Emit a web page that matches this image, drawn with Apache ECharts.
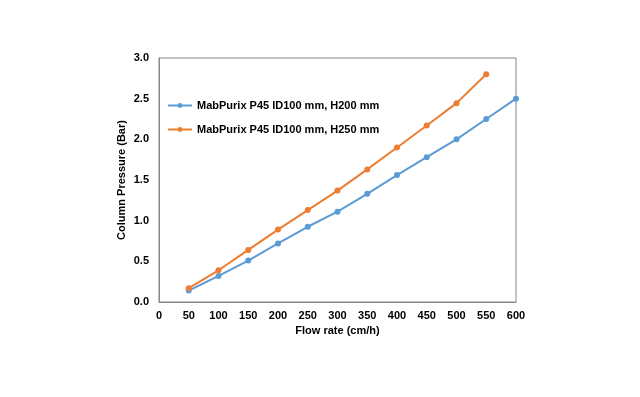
<!DOCTYPE html>
<html>
<head>
<meta charset="utf-8">
<script src="https://cdn.jsdelivr.net/npm/echarts@6/dist/echarts.min.js"></script>
<style>html,body{margin:0;padding:0;background:#fff;}#c{width:640px;height:397px;}</style>
</head>
<body>
<div id="c"></div>
<script>
const flowRates = [50, 100, 150, 200, 250, 300, 350, 400, 450, 500, 550, 600];
const seriesNames = ['MabPurix P45 ID100 mm, H200 mm', 'MabPurix P45 ID100 mm, H250 mm'];
const h200 = [0.14, 0.32, 0.51, 0.72, 0.925, 1.11, 1.33, 1.56, 1.78, 2.00, 2.25, 2.50];
const h250 = [0.17, 0.39, 0.64, 0.89, 1.13, 1.37, 1.63, 1.90, 2.17, 2.445, 2.80];
const xTitle = 'Flow rate (cm/h)';
const yTitle = 'Column Pressure (Bar)';

const pair = (xs, ys) => ys.map((v, i) => [xs[i], v]);
const font = 'Liberation Sans, Arial, sans-serif';
const chart = echarts.init(document.getElementById('c'), null, {renderer: 'canvas'});
chart.setOption({
  animation: false,
  backgroundColor: '#fff',
  textStyle: {fontFamily: font},
  grid: {left: 159, right: 124, top: 58, bottom: 95, show: true, borderColor: '#868686', borderWidth: 1},
  legend: {
    left: 162, top: 95, orient: 'vertical', itemGap: 13, itemWidth: 24, itemHeight: 6,
    textStyle: {fontFamily: font, fontWeight: 'bold', fontSize: 11, color: '#000'},
    data: seriesNames
  },
  xAxis: {
    type: 'value', min: 0, max: 600, interval: 50,
    name: xTitle, nameLocation: 'middle', nameGap: 22,
    nameTextStyle: {fontFamily: font, fontWeight: 'bold', fontSize: 11, color: '#000'},
    axisLine: {show: true, lineStyle: {color: '#868686'}},
    axisTick: {show: false},
    splitLine: {show: false},
    axisLabel: {fontFamily: font, fontWeight: 'bold', fontSize: 11, color: '#000', margin: 8}
  },
  yAxis: {
    type: 'value', min: 0, max: 3, interval: 0.5,
    name: yTitle, nameLocation: 'middle', nameGap: 32, nameMoveOverlap: false,
    nameTextStyle: {fontFamily: font, fontWeight: 'bold', fontSize: 11, color: '#000'},
    axisLine: {show: true, lineStyle: {color: '#868686'}},
    axisTick: {show: false},
    splitLine: {show: false},
    axisLabel: {fontFamily: font, fontWeight: 'bold', fontSize: 11, color: '#000', margin: 10, formatter: v => v.toFixed(1)}
  },
  series: [
    {name: seriesNames[0], type: 'line', data: pair(flowRates, h200), symbol: 'circle', symbolSize: 6,
     lineStyle: {color: '#5B9BD5', width: 2}, itemStyle: {color: '#5B9BD5'}},
    {name: seriesNames[1], type: 'line', data: pair(flowRates, h250), symbol: 'circle', symbolSize: 6,
     lineStyle: {color: '#ED7D31', width: 2}, itemStyle: {color: '#ED7D31'}}
  ]
});
</script>
</body>
</html>
